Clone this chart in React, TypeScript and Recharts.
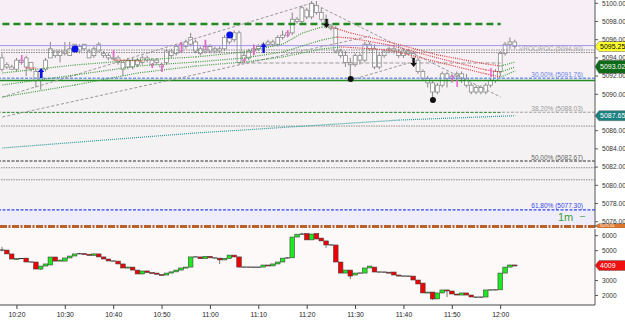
import React from 'react';
import { ComposedChart, Bar, XAxis, YAxis, ReferenceLine, ReferenceArea, ReferenceDot } from 'recharts';

// ---------- categories ----------
const fmtTime = (m: number) => `${Math.floor(m / 60)}:${String(m % 60).padStart(2, '0')}`;
const times: string[] = Array.from({ length: 123 }, (_, k) => fmtTime(10 * 60 + 17 + k));
const timeTicks = ['10:20', '10:30', '10:40', '10:50', '11:00', '11:10', '11:20', '11:30', '11:40', '11:50', '12:00'];
const priceTicks = [5076, 5078, 5080, 5082, 5084, 5086, 5090, 5092, 5094, 5096, 5098, 5100];
const deltaTicks = [2000, 3000, 5000, 6000];

// ---------- main price candles (1 minute) ----------
const opens = [5092.75,5093.25,5092.75,5092.75,5093.75,5093.00,5093.50,5092.50,5091.50,5092.75,5094.00,5094.75,5094.25,5094.50,5094.25,5094.75,5095.25,5095.00,5094.75,5094.25,5094.75,5094.50,5094.25,5094.00,5094.00,5093.50,5093.00,5093.75,5093.25,5093.50,5093.75,5093.75,5093.50,5093.25,5093.50,5094.25,5094.50,5094.75,5095.25,5095.50,5095.75,5095.00,5094.75,5095.25,5095.00,5094.75,5095.00,5095.75,5096.00,5096.75,5093.75,5094.00,5094.75,5095.00,5095.25,5095.50,5095.75,5095.50,5096.25,5096.50,5096.75,5098.25,5098.00,5099.25,5098.50,5099.75,5099.00,5098.25,5097.50,5097.25,5094.75,5094.25,5093.50,5093.25,5094.25,5093.75,5095.50,5095.00,5093.00,5094.25,5094.75,5095.00,5094.75,5094.25,5094.75,5094.50,5093.75,5092.50,5091.75,5091.25,5090.25,5091.00,5092.25,5091.75,5092.00,5092.25,5091.75,5091.00,5090.25,5090.75,5090.25,5091.00,5091.50,5092.50,5094.50,5095.50,5095.75];
const highs = [5094.50,5093.50,5093.25,5094.00,5094.00,5094.25,5093.50,5092.75,5092.75,5094.00,5095.75,5094.75,5094.75,5095.75,5095.75,5095.50,5095.50,5095.50,5095.00,5095.25,5095.75,5094.75,5094.50,5094.75,5094.25,5093.50,5094.00,5094.00,5094.00,5094.25,5094.25,5094.00,5094.00,5093.50,5095.00,5095.00,5095.50,5095.75,5096.00,5096.75,5096.00,5095.25,5096.00,5095.50,5095.25,5095.25,5096.50,5096.50,5097.00,5097.00,5094.75,5095.00,5095.50,5095.50,5095.75,5096.00,5096.00,5096.50,5097.00,5097.00,5099.00,5098.50,5099.75,5099.50,5100.25,5100.25,5099.50,5098.75,5097.75,5097.50,5095.00,5094.75,5094.00,5094.50,5094.50,5095.75,5095.75,5095.50,5094.50,5095.00,5095.25,5095.25,5095.00,5095.00,5095.00,5094.75,5094.00,5092.75,5092.00,5091.50,5091.25,5092.50,5092.50,5092.25,5092.50,5092.50,5092.25,5091.25,5091.00,5091.00,5091.25,5091.75,5092.75,5094.75,5095.75,5096.25,5096.00];
const lows = [5092.50,5092.75,5092.75,5092.50,5093.25,5092.00,5092.50,5090.75,5090.50,5092.50,5094.00,5094.00,5093.50,5094.25,5094.25,5094.75,5094.50,5094.75,5094.00,5094.00,5094.75,5094.00,5093.75,5093.75,5093.25,5092.00,5092.75,5092.75,5093.00,5093.25,5093.50,5093.00,5093.25,5092.50,5093.25,5094.00,5094.25,5094.50,5095.00,5095.25,5094.50,5094.25,5094.50,5094.50,5094.50,5094.50,5094.75,5095.50,5095.75,5093.25,5093.50,5093.75,5094.25,5094.75,5094.75,5095.25,5095.25,5095.25,5096.00,5096.25,5096.50,5097.75,5097.75,5098.25,5098.25,5098.75,5098.00,5097.25,5097.00,5094.50,5094.00,5093.00,5091.75,5093.00,5093.25,5093.50,5094.75,5092.75,5092.75,5094.00,5094.50,5094.50,5094.00,5094.00,5094.25,5093.75,5092.25,5091.50,5090.75,5089.50,5090.00,5090.75,5090.75,5091.25,5091.50,5091.25,5090.75,5090.00,5090.00,5090.00,5090.00,5090.75,5091.25,5092.00,5094.25,5095.00,5095.00];
const closes = [5094.00,5093.00,5093.00,5093.75,5093.50,5094.00,5092.75,5091.50,5092.50,5093.75,5095.00,5094.25,5094.75,5094.75,5095.00,5095.50,5094.75,5095.50,5094.00,5095.00,5095.50,5094.25,5094.00,5094.00,5093.50,5092.75,5093.75,5093.00,5093.75,5094.00,5094.00,5093.25,5093.75,5093.00,5094.75,5094.75,5095.25,5095.50,5095.75,5096.25,5094.75,5094.50,5095.25,5094.75,5094.75,5095.00,5096.25,5096.25,5096.75,5093.50,5094.25,5094.75,5095.00,5095.25,5095.50,5095.75,5095.50,5096.25,5096.50,5096.75,5098.25,5098.00,5099.50,5098.50,5100.00,5099.00,5098.25,5097.50,5097.25,5094.75,5094.25,5093.50,5093.25,5094.25,5093.75,5095.50,5095.00,5093.00,5094.25,5094.75,5095.00,5094.75,5094.25,5094.75,5094.50,5094.00,5092.50,5091.75,5091.25,5090.25,5091.00,5092.25,5091.75,5092.00,5092.25,5091.75,5091.00,5090.25,5090.75,5090.25,5091.00,5091.50,5092.50,5094.50,5095.50,5095.75,5095.25];

// ---------- lower pane candles ----------
const dOpen = [5040,5040,4780,4440,4470,4500,4240,4240,3770,3970,4040,4575,4300,4300,4510,4640,4780,4800,4760,4680,4780,4580,4440,4310,4300,4110,3840,3900,3700,3440,3640,3540,3500,3400,3370,3500,3580,3700,3840,3900,4580,4580,4460,4620,4520,4500,4380,4480,4700,4580,3900,3900,3900,3890,3900,4040,3980,4110,4240,4500,4520,5910,6100,6150,5720,6150,5840,5650,5380,5380,4240,3500,3700,3370,3500,3500,3840,3900,3570,3570,3560,3570,3370,3300,3300,3300,3036,2830,2170,2230,1770,2170,2370,2300,2100,2030,2170,2030,1900,1880,1900,2370,2370,2380,3500,3900,4040];
const dHigh = [5250,5040,4780,4500,4480,4500,4250,4240,3970,4110,4575,4575,4380,4510,4640,4780,4850,4820,4760,4820,4780,4580,4440,4320,4300,4110,3920,3900,3700,3640,3660,3550,3500,3410,3500,3580,3700,3840,3910,4580,4590,4580,4620,4640,4530,4500,4480,4700,4700,4580,3910,3910,3900,3910,4040,4040,4110,4240,4500,4560,5910,6100,6200,6150,6110,6150,5840,5650,5390,5380,4240,3700,3700,3500,3510,3840,3970,3900,3580,3580,3560,3570,3380,3310,3310,3300,3036,2830,2230,2230,2170,2370,2380,2300,2100,2170,2170,2030,1910,1910,2370,2380,2390,3500,3900,4060,4060];
const dLow = [4950,4780,4440,4420,4460,4240,4230,3770,3700,3970,4040,4300,4290,4300,4510,4640,4770,4750,4680,4680,4580,4440,4310,4290,4110,3840,3830,3700,3440,3420,3540,3490,3420,3360,3370,3500,3580,3700,3840,3900,4570,4460,4460,4520,4490,4100,4380,4480,4580,3900,3890,3890,3880,3890,3900,3970,3980,4110,4240,4480,4520,5910,6090,5720,5720,5780,5650,5180,5370,4240,3500,3500,3100,3370,3490,3500,3840,3570,3560,3550,3490,3370,3290,3290,3280,3036,2770,2170,2160,1700,1770,2170,1900,2100,2030,2030,2030,1900,1870,1870,1900,2360,2360,2380,3500,3900,4000];
const dClose = [5040,4780,4440,4470,4470,4240,4240,3770,3970,4110,4575,4300,4370,4510,4640,4780,4800,4760,4680,4780,4580,4440,4310,4300,4110,3840,3900,3700,3440,3640,3540,3500,3420,3370,3500,3580,3700,3840,3900,4580,4580,4460,4620,4520,4500,4380,4480,4700,4580,3900,3900,3900,3890,3900,4040,3980,4110,4240,4500,4520,5910,6100,6110,5720,6110,5780,5650,5380,5380,4240,3500,3700,3300,3500,3500,3840,3970,3570,3570,3560,3500,3370,3300,3300,3290,3036,2770,2170,2230,1770,2170,2370,2300,2100,2030,2170,2030,1900,1880,1900,2370,2370,2380,3500,3900,4040,4009];

// ---------- moving-average ribbons (sampled points) ----------
type Pt = [string, number];
const fastRise: Pt[] = [['10:17',5092.34],['10:32',5093.22],['10:45',5093.77],['10:57',5094.10],['11:07',5094.65],['11:15',5095.52],['11:19',5096.73],['11:23',5097.39],['11:25',5097.39]];
const fastFall: Pt[] = [['11:25',5097.39],['11:29',5096.73],['11:37',5095.74],['11:47',5094.32],['11:57',5093.33],['12:00',5093.11]];
const fastTurn: Pt[] = [['12:00',5093.11],['12:03',5093.55]];
const midRise: Pt[] = [['10:17',5091.02],['10:32',5092.12],['10:45',5093.11],['10:57',5093.55],['11:07',5093.99],['11:15',5094.65],['11:19',5095.31],['11:23',5095.96],['11:26',5096.29]];
const midFall: Pt[] = [['11:26',5096.29],['11:29',5096.18],['11:37',5095.41],['11:47',5093.99],['11:57',5092.67],['12:00',5092.45]];
const midTurn: Pt[] = [['12:00',5092.45],['12:03',5093.00]];
const slowRise: Pt[] = [['10:17',5089.70],['10:32',5091.02],['10:45',5092.34],['10:57',5093.11],['11:07',5093.55],['11:15',5094.10],['11:19',5094.54],['11:23',5094.98],['11:27',5095.20]];
const slowFall: Pt[] = [['11:27',5095.20],['11:29',5095.14],['11:37',5094.87],['11:47',5093.55],['11:57',5092.23],['12:00',5091.90]];
const slowTurn: Pt[] = [['12:00',5091.90],['12:03',5092.56]];
const longAvg: Pt[] = [['10:17',5084.10],['10:57',5085.75],['11:39',5087.17],['12:03',5087.65]];

// ---------- levels / annotations ----------
const fib30 = 5091.76, fib38 = 5088.03, fib50 = 5082.67, fib62 = 5077.30;
const lastPrice = 5095.25, emaTag = 5093.02, longTag = 5087.65, lastDelta = 4009;
const pink: [string, number, number][] = [['10:21',5094.32,5093.44],['10:40',5094.87,5094.10],['10:48',5093.44,5092.89],['10:50',5093.33,5092.45],['10:54',5095.74,5094.65],['10:59',5095.96,5094.87],['11:07',5093.99,5093.44],['11:09',5095.41,5094.32],['11:16',5097.06,5096.29],['11:50',5092.12,5091.35],['11:51',5091.57,5090.80],['11:58',5092.89,5091.90]];

const data = times.map((t, k) => ({ t, o: opens[k], h: highs[k], l: lows[k], c: closes[k], dO: dOpen[k], dH: dHigh[k], dL: dLow[k], dC: dClose[k] }));

const FONT = 'Liberation Sans, Arial, sans-serif';
const GREEN = '#3c9c3c', RED = '#e23a3a';

const ribbon = (name: string, pts: Pt[], color: string, dash = '1 1.2', w = 1.2) =>
  pts.slice(1).map((p, i) => (
    <ReferenceLine key={`${name}-${i}`} segment={[{ x: pts[i][0], y: pts[i][1] }, { x: p[0], y: p[1] }]}
      stroke={color} strokeWidth={w} strokeDasharray={dash} />
  ));

const MainCandle = (props: any) => {
  const { x, y, width, height, payload } = props;
  if (!payload || payload.h == null) return null;
  const top = Math.min(y, y + height), bot = Math.max(y, y + height);
  const range = payload.h - payload.l;
  const k = range > 0 ? (bot - top) / range : 0;
  const cx = x + width / 2;
  const bTop = top + (payload.h - Math.max(payload.o, payload.c)) * k;
  const bBot = top + (payload.h - Math.min(payload.o, payload.c)) * k;
  return (
    <g>
      <line x1={cx} x2={cx} y1={top} y2={bot} stroke="#8a8a8a" strokeWidth={1} />
      <rect x={cx - 1.9} y={bTop} width={3.8} height={Math.max(bBot - bTop, 1)} fill="#ffffff" stroke="#8a8a8a" strokeWidth={0.8} />
    </g>
  );
};

const DeltaCandle = (props: any) => {
  const { x, y, width, height, payload } = props;
  if (!payload || payload.dH == null) return null;
  const top = Math.min(y, y + height), bot = Math.max(y, y + height);
  const range = payload.dH - payload.dL;
  const k = range > 0 ? (bot - top) / range : 0;
  const cx = x + width / 2;
  const bTop = top + (payload.dH - Math.max(payload.dO, payload.dC)) * k;
  const bBot = top + (payload.dH - Math.min(payload.dO, payload.dC)) * k;
  const flat = Math.abs(payload.dO - payload.dC) < 25;
  const up = payload.dC > payload.dO;
  return (
    <g>
      <line x1={cx} x2={cx} y1={top} y2={bot} stroke="#777" strokeWidth={1} />
      {flat ? (
        <line x1={cx - 2.4} x2={cx + 2.4} y1={(bTop + bBot) / 2} y2={(bTop + bBot) / 2} stroke="#222" strokeWidth={1} />
      ) : (
        <rect x={cx - 2.3} y={bTop} width={4.6} height={Math.max(bBot - bTop, 1)} fill={up ? '#1ee81e' : '#f00000'} stroke="#444" strokeWidth={0.6} />
      )}
    </g>
  );
};

const RightText = (props: any) => {
  const { viewBox, text, color } = props;
  if (!viewBox) return null;
  return (
    <text x={viewBox.x + viewBox.width - 12} y={viewBox.y - 1.5} textAnchor="end" fontSize={6.5} fill={color} fontFamily={FONT}>{text}</text>
  );
};

const FibLast = (props: any) => {
  const { viewBox, text, color } = props;
  if (!viewBox) return null;
  const r = viewBox.x + viewBox.width;
  return (
    <g>
      <text x={r - 12} y={viewBox.y - 1.5} textAnchor="end" fontSize={6.5} fill={color} fontFamily={FONT}>{text}</text>
      <text x={r - 37} y={viewBox.y + 11} fontSize={11} fill="#3aa03a" fontFamily={FONT}>1m</text>
      <text x={r - 15} y={viewBox.y + 9} fontSize={9} fill="#3aa03a" fontFamily={FONT}>–</text>
    </g>
  );
};

const PriceTag = (props: any) => {
  const { viewBox, text, bg, fg, h = 10, fs = 7 } = props;
  if (!viewBox) return null;
  const ax = viewBox.x + viewBox.width;
  const y = viewBox.y;
  return (
    <g>
      <path d={`M${ax},${y} L${ax + 4},${y - h / 2} L${ax + 31},${y - h / 2} L${ax + 31},${y + h / 2} L${ax + 4},${y + h / 2} Z`} fill={bg} stroke="#666" strokeWidth={0.5} />
      <text x={ax + 5} y={y + fs * 0.36} fontSize={fs} fill={fg} fontFamily={FONT}>{text}</text>
    </g>
  );
};

const UpArrow = (color: string) => (p: any) => {
  const { cx, cy } = p;
  return (
    <path d={`M${cx},${cy} L${cx + 3.2},${cy + 4} L${cx + 1.2},${cy + 4} L${cx + 1.2},${cy + 10} L${cx - 1.2},${cy + 10} L${cx - 1.2},${cy + 4} L${cx - 3.2},${cy + 4} Z`} fill={color} />
  );
};
const DownArrow = (color: string) => (p: any) => {
  const { cx, cy } = p;
  return (
    <path d={`M${cx},${cy} L${cx + 3.2},${cy - 4} L${cx + 1.2},${cy - 4} L${cx + 1.2},${cy - 9} L${cx - 1.2},${cy - 9} L${cx - 1.2},${cy - 4} L${cx - 3.2},${cy - 4} Z`} fill={color} />
  );
};

const TimeTick = (props: any) => {
  const { x, y, payload } = props;
  if (!timeTicks.includes(payload.value)) return null;
  return (
    <g>
      <line x1={x} x2={x} y1={y} y2={y + 4} stroke="#444" />
      <text x={x} y={y + 12} textAnchor="middle" fontSize={6.8} fill="#222" fontFamily={FONT}>{payload.value}</text>
    </g>
  );
};

const W = 625;
const yTickStyle = { fontSize: 6.6, fill: '#333', fontFamily: FONT };

export default function App() {
  return (
    <div style={{ position: 'absolute', left: 0, top: 0, width: 625, height: 321, background: '#ffffff', overflow: 'hidden' }}>
      <div style={{ position: 'absolute', left: 0, top: 0 }}>
        <ComposedChart width={W} height={228} data={data} margin={{ top: 0, right: 0, left: 0, bottom: 0 }}>
          <XAxis dataKey="t" hide />
          <YAxis orientation="right" width={30} domain={[5075.31, 5100.36]} allowDataOverflow ticks={priceTicks}
            tickFormatter={(v: number) => v.toFixed(2)} tick={yTickStyle} tickSize={3} tickMargin={4}
            axisLine={{ stroke: '#555' }} tickLine={{ stroke: '#555' }} interval={0} />
          <ReferenceArea y1={5095.35} y2={5100.36} fill="#f8eef5" fillOpacity={1} stroke="none" />
          <ReferenceArea y1={5091.5} y2={5095.35} fill="#f7f0f5" fillOpacity={1} stroke="none" />
          <ReferenceArea y1={fib62} y2={5091.5} fill="#f5f2f3" fillOpacity={1} stroke="none" />
          <ReferenceArea y1={5075.31} y2={fib62} fill="#efedf9" fillOpacity={1} stroke="none" />

          <ReferenceLine y={5094.87} stroke="#8c8c8c" strokeDasharray="1.5 1" strokeWidth={1} />
          <ReferenceLine y={5094.59} stroke="#8c8c8c" strokeDasharray="1.5 1" strokeWidth={1}
            label={<RightText text="VPOC/POC (5094.90)" color="#aaaaaa" />} />
          <ReferenceLine y={5095.35} stroke="#a395e6" strokeWidth={1} />
          <ReferenceLine segment={[{ x: '10:17', y: 5097.72 }, { x: '12:00', y: 5097.72 }]} stroke="#1f8a1f" strokeWidth={2.5} strokeDasharray="7 4" />
          <ReferenceLine segment={[{ x: '11:06', y: 5093.44 }, { x: '12:00', y: 5093.44 }]} stroke="#9a9a9a" strokeDasharray="4 2" />
          <ReferenceLine y={fib30} stroke="#7596ee" strokeWidth={1.5} strokeDasharray="3 1.5"
            label={<RightText text="30.00% (5091.76)" color="#6b83e8" />} />
          <ReferenceLine y={5091.52} stroke="#1f8a1f" strokeWidth={1.5} />
          <ReferenceLine y={fib38} stroke="#a0a0a0" strokeDasharray="3 1.5"
            label={<RightText text="38.20% (5088.03)" color="#999999" />} />
          <ReferenceLine segment={[{ x: '10:17', y: 5088.0 }, { x: '12:00', y: 5088.0 }]} stroke="#3a9a3a" strokeDasharray="3 1.5" />
          <ReferenceLine y={5086.51} stroke="#8c8c8c" strokeDasharray="1.5 1" />
          <ReferenceLine y={fib50} stroke="#333333" strokeDasharray="3 1.5"
            label={<RightText text="50.00% (5082.67)" color="#666666" />} />
          <ReferenceLine y={5081.93} stroke="#8c8c8c" strokeDasharray="1.5 1" />
          <ReferenceLine y={5080.61} stroke="#8c8c8c" strokeDasharray="1.5 1" />
          <ReferenceLine y={fib62} stroke="#3347ee" strokeWidth={1.2} strokeDasharray="3 1.5"
            label={<FibLast text="61.80% (5077.30)" color="#3347ee" />} />
          <ReferenceLine y={5075.47} stroke="#b8612c" strokeWidth={3} strokeDasharray="7 1.5 2 1.5" />

          {/* trend lines */}
          <ReferenceLine segment={[{ x: '10:17', y: 5087.5 }, { x: '11:33', y: 5096.4 }]} stroke="#9a9a9a" strokeDasharray="3 2" />
          <ReferenceLine segment={[{ x: '10:17', y: 5089.7 }, { x: '11:21', y: 5100.03 }]} stroke="#9a9a9a" strokeDasharray="3 2" />
          <ReferenceLine segment={[{ x: '11:21', y: 5100.03 }, { x: '12:00', y: 5089.7 }]} stroke="#9a9a9a" strokeDasharray="3 2" />
          <ReferenceLine segment={[{ x: '11:29', y: 5091.57 }, { x: '11:41', y: 5093.44 }]} stroke="#9a9a9a" strokeDasharray="3 2" />
          <ReferenceLine segment={[{ x: '10:22', y: 5092.89 }, { x: '10:24', y: 5092.89 }]} stroke="#e03030" strokeDasharray="2 1" />
          <ReferenceLine segment={[{ x: '10:40', y: 5093.77 }, { x: '10:46', y: 5093.66 }]} stroke="#e03030" strokeDasharray="2 1" />

          {ribbon('long', longAvg, '#2a9a9a', '1 1', 1.2)}
          {ribbon('slowR', slowRise, GREEN)}
          {ribbon('midR', midRise, GREEN)}
          {ribbon('fastR', fastRise, GREEN)}
          {ribbon('slowF', slowFall, RED)}
          {ribbon('midF', midFall, RED)}
          {ribbon('fastF', fastFall, RED)}
          {ribbon('slowT', slowTurn, GREEN)}
          {ribbon('midT', midTurn, GREEN)}
          {ribbon('fastT', fastTurn, GREEN)}

          <Bar dataKey={(d: any) => (d.h == null ? null : [d.l, d.h])} barSize={4} shape={<MainCandle />} isAnimationActive={false} />

          {pink.map(([t, a, b]) => (
            <ReferenceLine key={t} segment={[{ x: t, y: a }, { x: t, y: b }]} stroke="#f060d0" strokeWidth={1.5} />
          ))}
          <ReferenceDot x="10:32" y={5094.98} r={3.5} fill="#0a14e6" stroke="none" />
          <ReferenceDot x="11:04" y={5096.51} r={3.5} fill="#0a14e6" stroke="none" />
          <ReferenceDot x="10:25" y={5092.89} r={1} shape={UpArrow('#0a14e6')} />
          <ReferenceDot x="11:11" y={5095.63} r={1} shape={UpArrow('#0a14e6')} />
          <ReferenceDot x="11:24" y={5097.28} r={1} shape={DownArrow('#111')} />
          <ReferenceDot x="11:42" y={5093.0} r={1} shape={DownArrow('#111')} />
          <ReferenceDot x="11:29" y={5091.68} r={3} fill="#111" stroke="none" />
          <ReferenceDot x="11:46" y={5089.37} r={3} fill="#111" stroke="none" />

          <ReferenceLine y={longTag} stroke="none" label={<PriceTag text="5087.65" bg="#1b8080" fg="#ffffff" />} />
          <ReferenceLine y={emaTag} stroke="none" label={<PriceTag text="5093.02" bg="#0e6a14" fg="#ffffff" h={13} />} />
          <ReferenceLine y={lastPrice} stroke="none" label={<PriceTag text="5095.25" bg="#ffff30" fg="#000000" />} />
          <ReferenceLine y={5075.54} stroke="none" label={<PriceTag text="5075.50" bg="#e0762a" fg="#ffffff" h={4.5} fs={4} />} />
        </ComposedChart>
      </div>
      <div style={{ position: 'absolute', left: 0, top: 228 }}>
        <ComposedChart width={W} height={93} data={data} margin={{ top: 1, right: 0, left: 0, bottom: 0 }}>
          <XAxis dataKey="t" interval={0} tick={<TimeTick />} tickLine={false} tickSize={0} tickMargin={0} height={16} axisLine={{ stroke: '#444' }} />
          <YAxis orientation="right" width={30} domain={[1364, 6448]} allowDataOverflow ticks={deltaTicks}
            tick={yTickStyle} tickSize={3} tickMargin={4} axisLine={{ stroke: '#555' }} tickLine={{ stroke: '#555' }} interval={0} />
          <ReferenceArea y1={1364} y2={6448} fill="#fdf9f9" fillOpacity={1} stroke="none" />
          <Bar dataKey={(d: any) => (d.dH == null ? null : [d.dL, d.dH])} barSize={4} shape={<DeltaCandle />} isAnimationActive={false} />
          <ReferenceLine y={lastDelta} stroke="none" label={<PriceTag text="4009" bg="#ee1111" fg="#ffffff" />} />
        </ComposedChart>
      </div>
    </div>
  );
}
